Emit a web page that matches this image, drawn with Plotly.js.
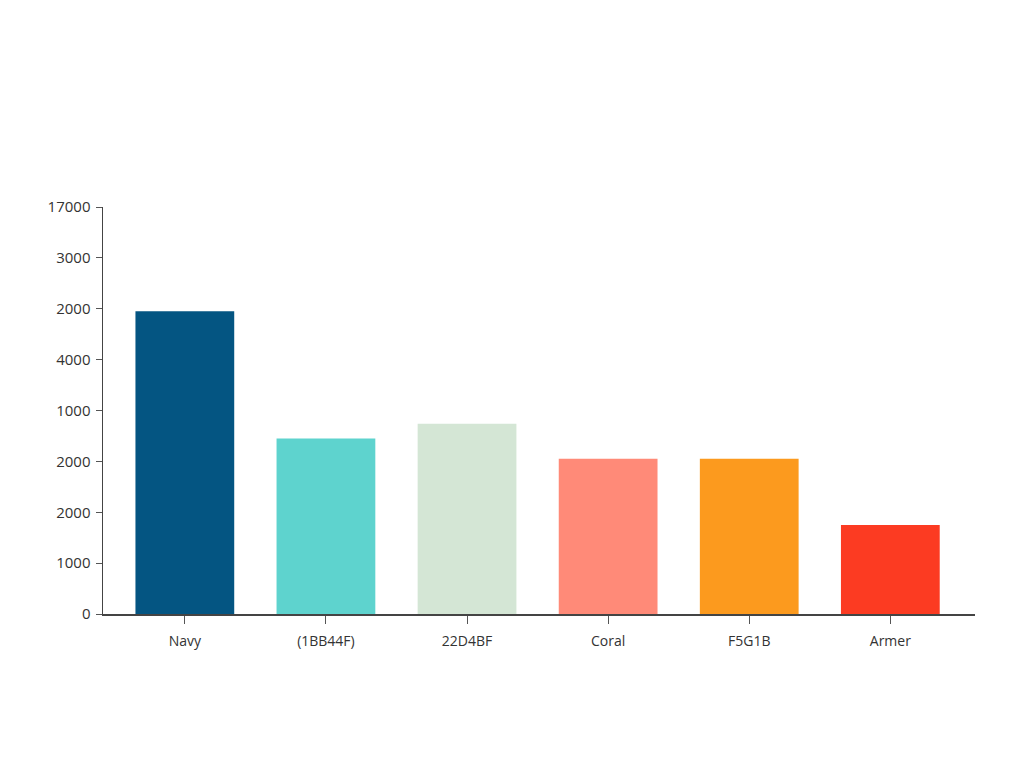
<!DOCTYPE html>
<html>
<head>
<meta charset="utf-8">
<script src="https://cdn.plot.ly/plotly-3.0.1.min.js"></script>
<style>
  html, body { margin: 0; padding: 0; background: #fff; }
  #chart { width: 1024px; height: 768px; }
</style>
</head>
<body>
<div id="chart"></div>
<script>
// values
let categories = ["Navy", "(1BB44F)", "22D4BF", "Coral", "F5G1B", "Armer"];
let values = [5950, 3450, 3740, 3050, 3050, 1750];
let barColors = ["#045582", "#5ed3ce", "#d4e6d5", "#ff8a78", "#fc9a1e", "#fc3b22"];

// y tick labels as printed on the reference (they do not follow the scale)
let yTickVals = [0, 1000, 2000, 3000, 4000, 5000, 6000, 7000, 8000];
let yTickText = ["0", "1000", "2000", "2000", "1000", "4000", "2000", "3000", "17000"];

let trace = {
  type: "bar",
  x: categories,
  y: values,
  marker: { color: barColors, line: { width: 0 } },
  hoverinfo: "x+y",
};

let layout = {
  width: 1024,
  height: 768,
  margin: { l: 103, r: 49, t: 207, b: 154 },
  paper_bgcolor: "#ffffff",
  plot_bgcolor: "#ffffff",
  showlegend: false,
  bargap: 0.3,
  font: { family: "Open Sans, Lato, sans-serif", size: 14, color: "#333" },
  xaxis: {
    type: "category",
    range: [-0.58, 5.6],
    showline: true,
    linecolor: "#444",
    linewidth: 1.5,
    ticks: "outside",
    ticklen: 8,
    tickcolor: "#555",
    tickwidth: 1,
    showgrid: false,
    zeroline: false,
    tickfont: { size: 14, color: "#333" },
    ticklabelstandoff: 6,
  },
  yaxis: {
    range: [0, 8000],
    tickvals: yTickVals,
    ticktext: yTickText,
    showline: true,
    linecolor: "#444",
    linewidth: 1.5,
    ticks: "outside",
    ticklen: 6,
    tickcolor: "#555",
    tickwidth: 1,
    showgrid: false,
    zeroline: false,
    tickfont: { size: 15, color: "#333" },
    ticklabelstandoff: 2,
  },
};

Plotly.newPlot("chart", [trace], layout, { displayModeBar: false, staticPlot: true });
</script>
</body>
</html>
